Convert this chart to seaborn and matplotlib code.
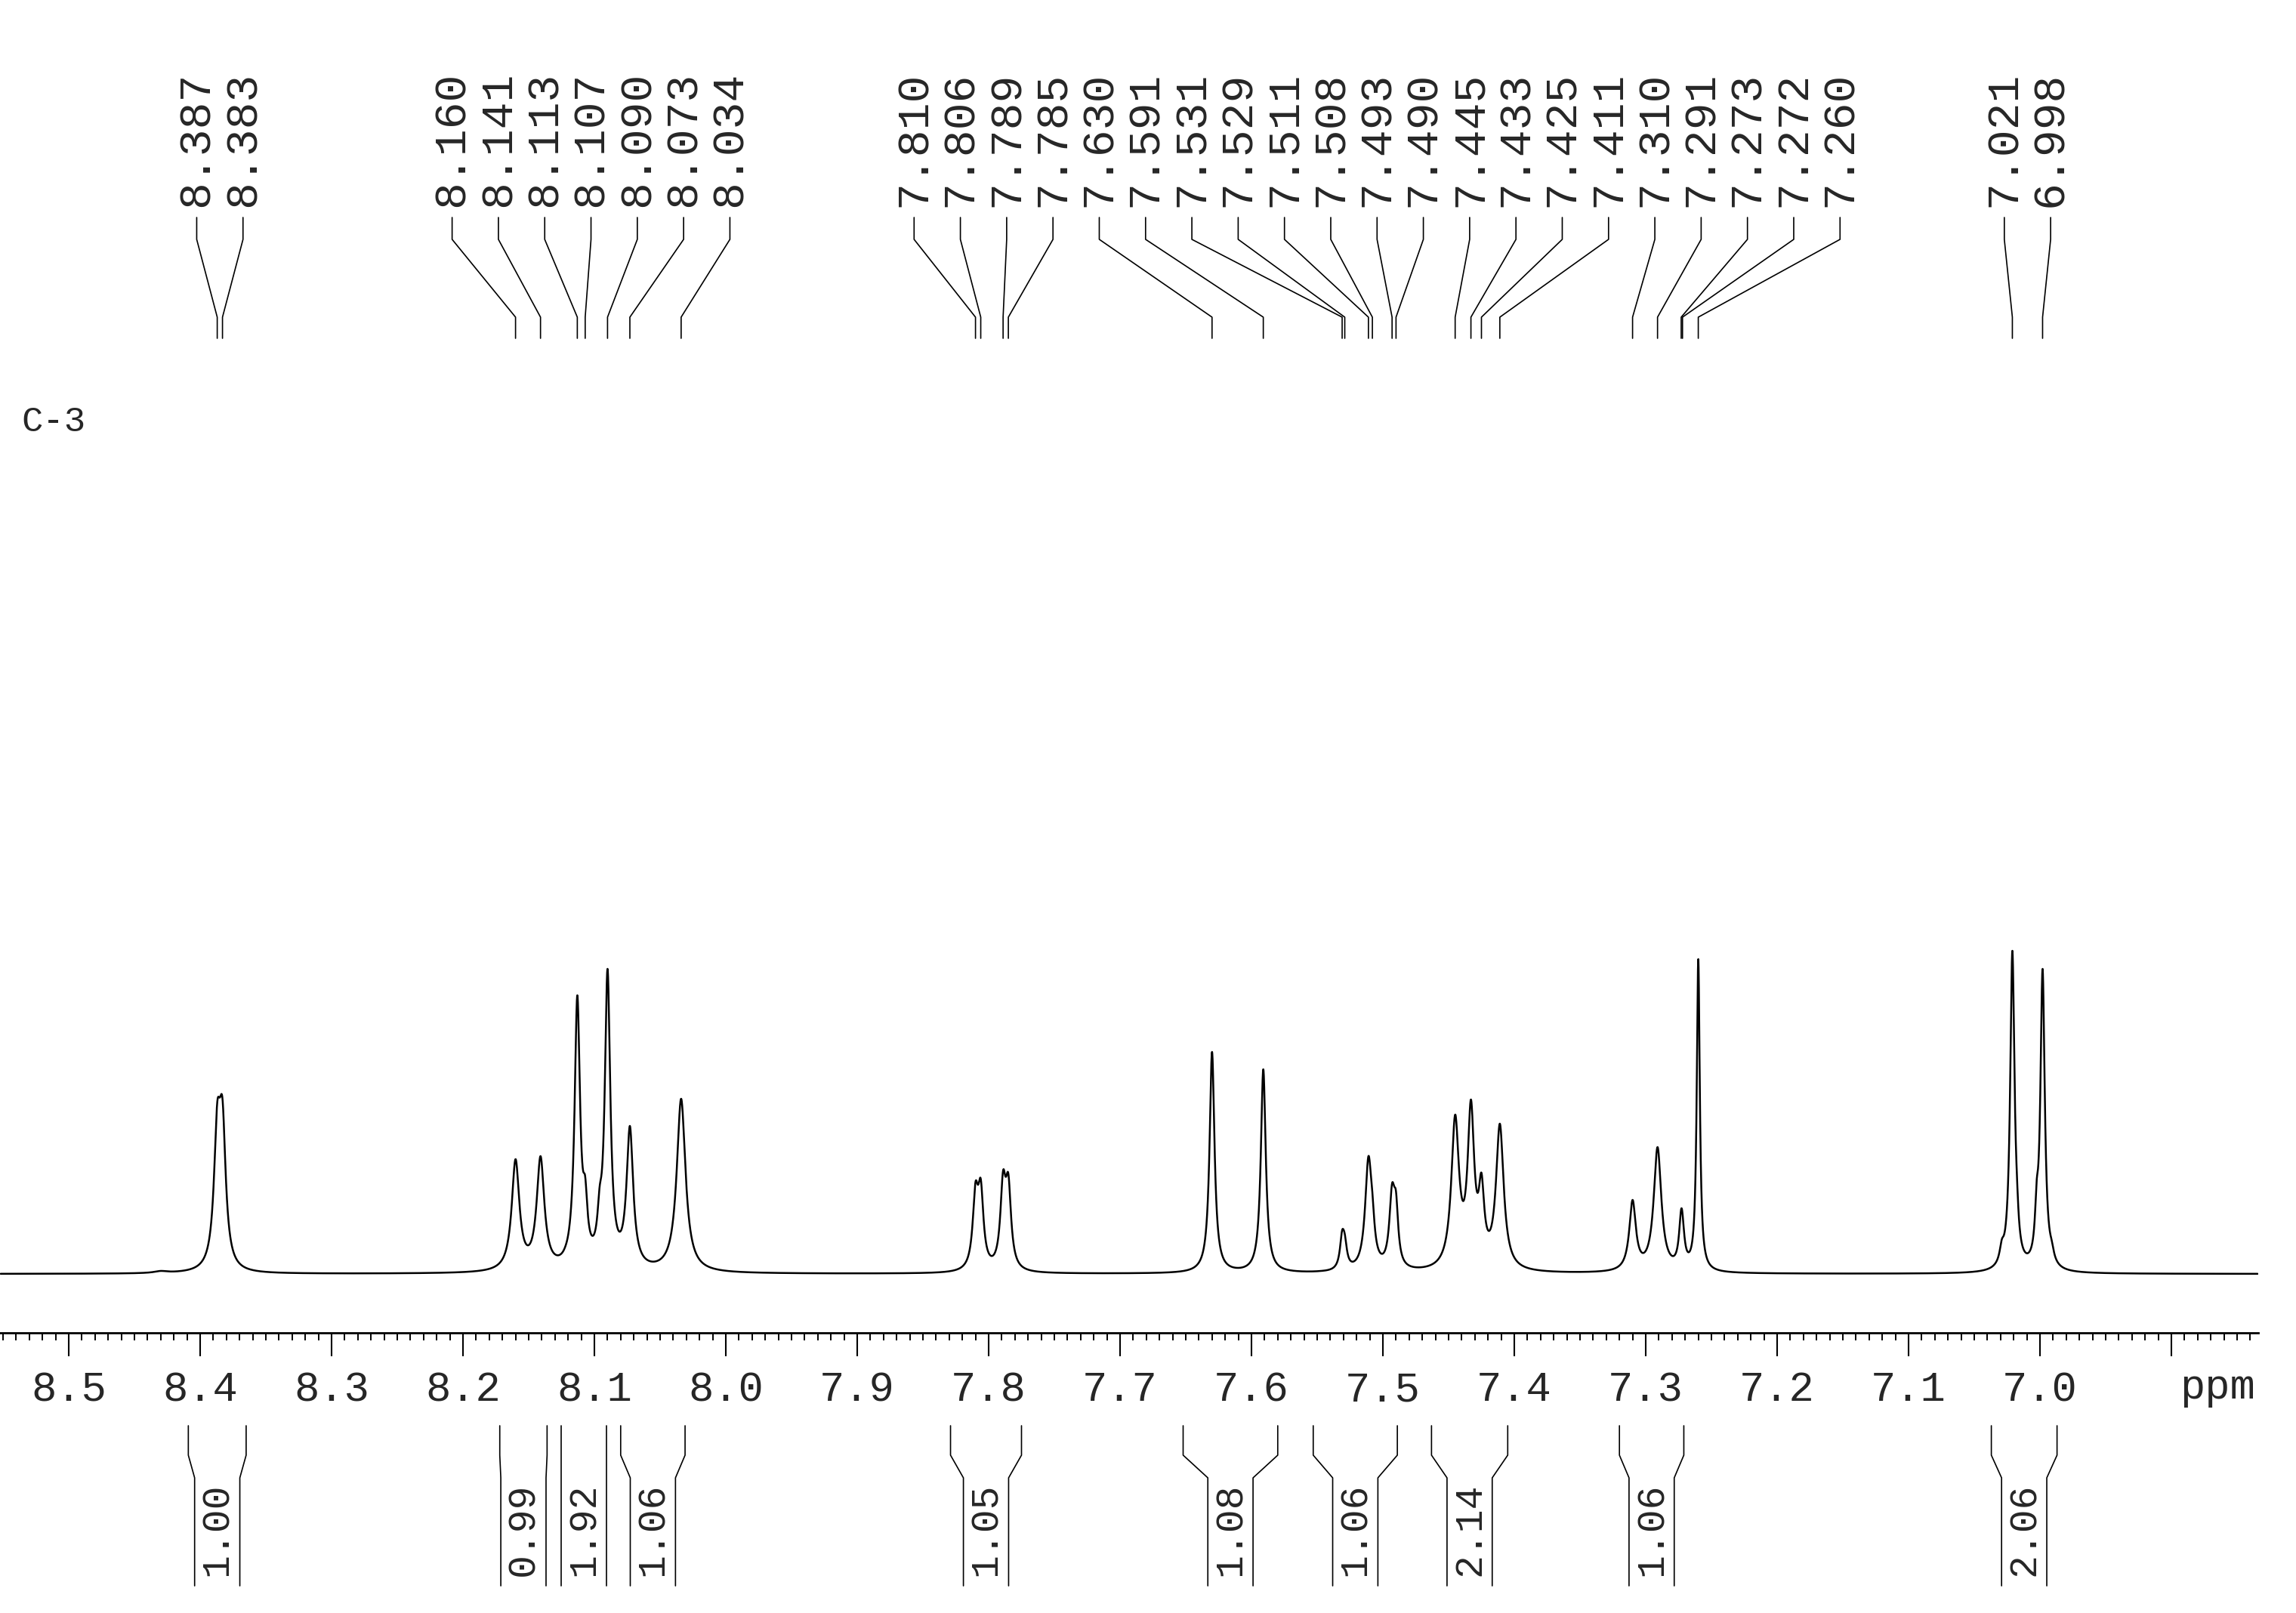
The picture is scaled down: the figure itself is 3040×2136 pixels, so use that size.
import numpy as np
import matplotlib
matplotlib.use('Agg')
import matplotlib.pyplot as plt
from matplotlib.ticker import MultipleLocator, FuncFormatter
import seaborn as sns

# Peaks: shift (ppm), apparent height (px above baseline), line width (ppm)
peak_ppm = [8.430, 8.387, 8.383, 8.160, 8.141, 8.122, 8.113, 8.107, 8.096, 8.090,
            8.084, 8.073, 8.034, 7.810, 7.806, 7.789, 7.785, 7.630, 7.591, 7.547,
            7.531, 7.529, 7.511, 7.508, 7.493, 7.490, 7.445, 7.433, 7.425, 7.411,
            7.310, 7.291, 7.273, 7.272, 7.260, 7.029, 7.021, 7.0175, 7.0025, 6.998,
            6.991]
peak_height = [4, 227, 232, 152, 156, 37, 369, 129, 116, 404,
               47, 196, 232, 122, 126, 137, 133, 294, 271, 4,
               58, 53, 156, 108, 120, 109, 211, 231, 134, 199,
               98, 168, 86, 80, 417, 46, 428, 129, 124, 404,
               44]
peak_fwhm = [0.012, 0.006, 0.006, 0.007, 0.007, 0.004, 0.005, 0.004, 0.004, 0.005,
             0.004, 0.006, 0.008, 0.005, 0.005, 0.005, 0.005, 0.0045, 0.0045, 0.008,
             0.004, 0.004, 0.006, 0.004, 0.005, 0.004, 0.007, 0.006, 0.005, 0.007,
             0.006, 0.007, 0.004, 0.004, 0.0028, 0.004, 0.004, 0.003, 0.003, 0.004,
             0.004]

# Peak pick labels, grouped as printed above the spectrum
label_groups = [
    [8.387, 8.383],
    [8.160, 8.141, 8.113, 8.107, 8.090, 8.073, 8.034],
    [7.810, 7.806, 7.789, 7.785, 7.630, 7.591, 7.531, 7.529, 7.511, 7.508, 7.493,
     7.490, 7.445, 7.433, 7.425, 7.411, 7.310, 7.291, 7.273, 7.272, 7.260],
    [7.021, 6.998],
]

# Integrals
int_value = ['1.00', '0.99', '1.92', '1.06', '1.05', '1.08', '1.06', '2.14', '1.06', '2.06']
int_from = [8.409, 8.172, 8.125, 8.080, 7.829, 7.652, 7.553, 7.463, 7.320, 7.037]
int_to = [8.365, 8.136, 8.091, 8.031, 7.775, 7.580, 7.489, 7.405, 7.271, 6.987]

sample_name = 'C-3'

sns.set_style('white')
plt.rcParams['font.family'] = ['Liberation Mono', 'DejaVu Sans Mono']

W, H = 3040, 2136
fig = plt.figure(figsize=(W / 100, H / 100), dpi=100)
# axes: full width up to end of ruler, bottom spine = ruler line
ax = fig.add_axes([0, (H - 1765) / H, 2990 / W, 1765 / H])
ppm_left, ppm_right = 8.5523, 6.8339
base_row = 1687


def row(r):
    # page row (px from top) -> data y (px above baseline)
    return base_row - r


# build the trace from the peak list (lorentzian lines)
pp = np.array(peak_ppm)
hh = np.array(peak_height, dtype=float)
gg = np.array(peak_fwhm) / 2


def lor(x, c, g):
    return g ** 2 / ((x - c) ** 2 + g ** 2)


M = lor(pp[:, None], pp[None, :], gg[None, :])
amp = hh.copy()
for _ in range(600):
    amp = amp * hh / (M @ amp)
xs = np.linspace(ppm_left - 0.0005, ppm_right + 0.0005, 24000)
ys = (lor(xs[:, None], pp[None, :], gg[None, :]) * amp[None, :]).sum(axis=1)

sns.lineplot(x=xs, y=ys, ax=ax, color='black', linewidth=1.8, estimator=None, sort=False)

ax.set_xlim(ppm_left, ppm_right)
ax.set_ylim(row(1765), row(0))
for s in ['top', 'left', 'right']:
    ax.spines[s].set_visible(False)
ax.spines['bottom'].set_linewidth(2.0)
ax.spines['bottom'].set_color('black')
ax.set_yticks([])
ax.set_ylabel('')
ax.set_xlabel('')
ax.xaxis.set_major_locator(MultipleLocator(0.1))
ax.xaxis.set_minor_locator(MultipleLocator(0.01))
ax.xaxis.set_major_formatter(FuncFormatter(lambda v, p: '' if v < 6.95 else f'{v:.1f}'))
ax.tick_params(axis='x', which='major', direction='out', length=22, width=1.5,
               labelsize=40, pad=14, color='black', bottom=True)
ax.tick_params(axis='x', which='minor', direction='out', length=7.5, width=1.4,
               color='black', bottom=True)
ax.text(6.865, row(1838), 'ppm', ha='center', va='center', fontsize=40, clip_on=False)

# peak labels with connector lines
spacing = 0.03523
for grp in label_groups:
    n = len(grp)
    c = np.mean(grp)
    for i, v in enumerate(grp):
        lx = c + ((n - 1) / 2 - i) * spacing
        ax.plot([lx, lx, v, v], [row(288), row(317), row(420), row(448)],
                color='black', linewidth=1.2, clip_on=False)
        ax.text(lx, row(274), f'{v:.3f}', rotation=90, ha='center', va='bottom',
                fontsize=43, clip_on=False)

ax.text(8.5362, row(559), sample_name, ha='left', va='center', fontsize=34)

# integral brackets under the scale
for lab, a, b in zip(int_value, int_from, int_to):
    mid = (a + b) / 2
    half = min((a - b) / 2, 0.0172)
    rows = [row(1888), row(1927), row(1957), row(2100)]
    ax.plot([a, a, mid + half, mid + half], rows, color='black', linewidth=1.2, clip_on=False)
    ax.plot([b, b, mid - half, mid - half], rows, color='black', linewidth=1.2, clip_on=False)
    ax.text(mid, row(2025), lab, rotation=90, ha='center', va='center', fontsize=37,
            clip_on=False)

fig.savefig('out.png', dpi=100, facecolor='white')
